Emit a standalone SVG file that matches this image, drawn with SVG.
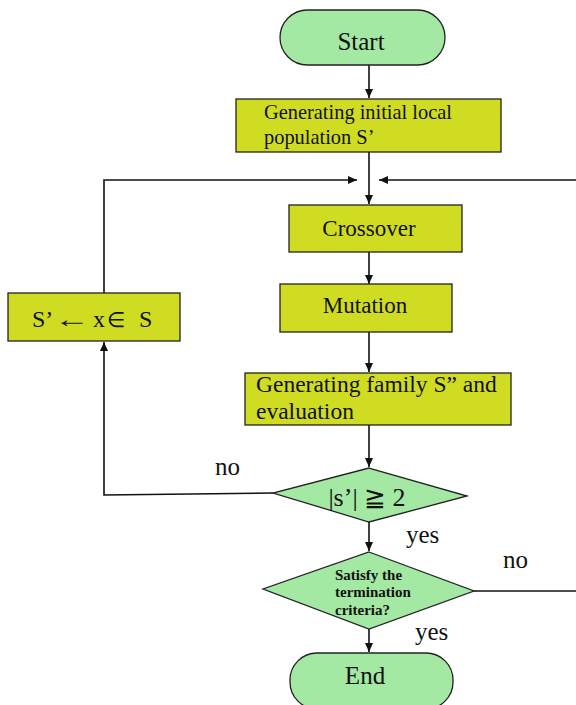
<svg xmlns="http://www.w3.org/2000/svg" width="576" height="705" viewBox="0 0 576 705">
<defs>
<style>
.term{fill:#a3e8a3;stroke:#222;stroke-width:1.3}
.proc{fill:#d0dc22;stroke:#222;stroke-width:1.3}
.dec{fill:#a3e8a3;stroke:#222;stroke-width:1.3}
.t{font-family:"Liberation Serif","Times New Roman",serif;fill:#111}
.lbl{font-family:"Liberation Serif","Times New Roman",serif;fill:#111;font-size:25px}
.edge{fill:none;stroke:#111;stroke-width:1.6}
</style>
<marker id="ah" markerUnits="userSpaceOnUse" markerWidth="9" markerHeight="8" refX="9" refY="4" orient="auto">
<path d="M0,0 L9,4 L0,8 z" fill="#111"/>
</marker>
</defs>
<rect width="576" height="705" fill="#fff"/>
<g id="connectors">
<line class="edge" x1="369" y1="65" x2="369" y2="98" marker-end="url(#ah)"/>
<line class="edge" x1="369" y1="152" x2="369" y2="204" marker-end="url(#ah)"/>
<polyline class="edge" points="104,294 104,180 357,180" marker-end="url(#ah)"/>
<polyline class="edge" points="474,591 576,591"/>
<line class="edge" x1="576" y1="180" x2="379" y2="180" marker-end="url(#ah)"/>
<line class="edge" x1="369" y1="252" x2="369" y2="284" marker-end="url(#ah)"/>
<line class="edge" x1="369" y1="332" x2="369" y2="372" marker-end="url(#ah)"/>
<line class="edge" x1="369" y1="425" x2="369" y2="467" marker-end="url(#ah)"/>
<polyline class="edge" points="273,493 104,495 104,342" marker-end="url(#ah)"/>
<line class="edge" x1="369" y1="522" x2="369" y2="551" marker-end="url(#ah)"/>
<line class="edge" x1="369" y1="629" x2="369" y2="652" marker-end="url(#ah)"/>
<text class="lbl" x="215" y="475">no</text>
<text class="lbl" x="406" y="543">yes</text>
<text class="lbl" x="503" y="568">no</text>
<text class="lbl" x="415" y="640">yes</text>
</g>
<g id="start">
<rect class="term" x="280" y="10" width="165" height="55" rx="27.5"/>
<text class="t" x="361" y="50" font-size="25" text-anchor="middle">Start</text>
</g>
<g id="init">
<rect class="proc" x="236" y="99" width="265" height="53"/>
<text class="t" x="264" y="119" font-size="20.4">Generating initial local</text>
<text class="t" x="264" y="144" font-size="20.4">population S’</text>
</g>
<g id="crossover">
<rect class="proc" x="289" y="205" width="173" height="47"/>
<text class="t" x="369" y="236" font-size="23" text-anchor="middle">Crossover</text>
</g>
<g id="mutation">
<rect class="proc" x="280" y="284" width="172" height="48"/>
<text class="t" x="365" y="313" font-size="23" text-anchor="middle">Mutation</text>
</g>
<g id="assign">
<rect class="proc" x="8" y="293" width="172" height="48"/>
<text class="t" y="327" font-size="24"><tspan x="32">S’</tspan><tspan x="93">x</tspan><tspan x="107" font-size="21">∈</tspan><tspan x="139">S</tspan></text>
<text class="t" x="36" y="327" font-size="24" transform="scale(1.5,1)">←</text>
</g>
<g id="family">
<rect class="proc" x="245" y="373" width="266" height="52"/>
<text class="t" x="256" y="392" font-size="23.5">Generating family S” and</text>
<text class="t" x="256" y="419" font-size="23.5">evaluation</text>
</g>
<g id="check">
<polygon class="dec" points="369,468 467,496 369,522 273,493"/>
<text class="t" x="367" y="506" font-size="26" text-anchor="middle">|s’| ≧ 2</text>
</g>
<g id="terminate">
<polygon class="dec" points="369,552 474,591 369,629 263,589"/>
<text class="t" x="335" y="580" font-size="15" font-weight="bold">Satisfy the</text>
<text class="t" x="335" y="597" font-size="15" font-weight="bold">termination</text>
<text class="t" x="335" y="615" font-size="15" font-weight="bold">criteria?</text>
</g>
<g id="end">
<rect class="term" x="290" y="653" width="163" height="56" rx="27"/>
<text class="t" x="365" y="684" font-size="25" text-anchor="middle">End</text>
</g>
</svg>
